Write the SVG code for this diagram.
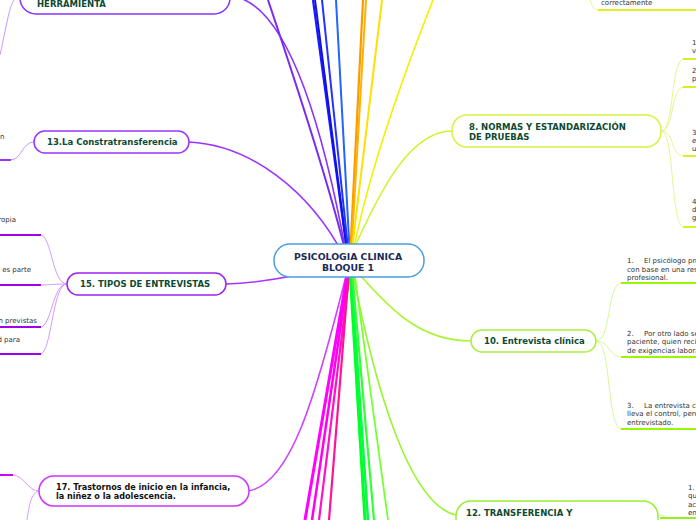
<svg xmlns="http://www.w3.org/2000/svg" width="696" height="520" viewBox="0 0 696 520">
<style>
.node{fill:#fff;stroke-width:1.5}
.t{font-family:"DejaVu Sans",Verdana,sans-serif;font-weight:bold;font-size:8.5px;fill:#0d4a32}
.s{font-family:"DejaVu Sans",Verdana,sans-serif;font-size:7px;fill:#333}
.c{fill:none}
.u{fill:none;stroke-width:2}
</style>
<rect width="696" height="520" fill="#fff"/>
<g id="connectors">
  <path class="c" d="M 230 -4 C 285 0, 322 120, 347 258" stroke="#8a33ff" stroke-width="1.6"/>
  <path class="c" d="M 268 0 Q 327 175 347 258" stroke="#7a2cf0" stroke-width="2"/>
  <path class="c" d="M 313 0 L 348 258" stroke="#1a1aff" stroke-width="2.2"/>
  <path class="c" d="M 315 0 L 348 258" stroke="#1010e8" stroke-width="2"/>
  <path class="c" d="M 322 0 L 349 258" stroke="#2233ff" stroke-width="2"/>
  <path class="c" d="M 336 0 L 350 258" stroke="#2266ff" stroke-width="2"/>
  <path class="c" d="M 363 0 L 350 258" stroke="#ff9900" stroke-width="2.2"/>
  <path class="c" d="M 366 0 L 351 258" stroke="#ffb300" stroke-width="2"/>
  <path class="c" d="M 382 0 L 351 258" stroke="#ffe000" stroke-width="2"/>
  <path class="c" d="M 433 0 Q 370 160 352 258" stroke="#f2f200" stroke-width="1.6"/>
  <path class="c" d="M 351 255 C 380 190, 410 131, 452 131" stroke="#ccf533" stroke-width="1.6"/>
  <path class="c" d="M 189 142 C 250 145, 310 190, 345 258" stroke="#9933ff" stroke-width="1.6"/>
  <path class="c" d="M 226 284 C 260 283, 300 276, 349 262" stroke="#aa33ff" stroke-width="1.6"/>
  <path class="c" d="M 248 491 C 290 485, 315 400, 347 272" stroke="#cc44ff" stroke-width="1.6"/>
  <path class="c" d="M 352 266 C 390 310, 420 341, 471 341" stroke="#aaf533" stroke-width="1.6"/>
  <path class="c" d="M 352 268 C 375 390, 410 505, 456 515" stroke="#99f533" stroke-width="1.6"/>
  <path class="c" d="M 348 270 L 305 520" stroke="#ff00ff" stroke-width="3"/>
  <path class="c" d="M 349 270 L 312 520" stroke="#ff00ee" stroke-width="2.5"/>
  <path class="c" d="M 350 270 L 319 520" stroke="#ff10cc" stroke-width="2.2"/>
  <path class="c" d="M 349 270 L 329 520" stroke="#ff1493" stroke-width="2.2"/>
  <path class="c" d="M 350 270 L 365 520" stroke="#00ff22" stroke-width="3"/>
  <path class="c" d="M 351 270 L 368 520" stroke="#00ff44" stroke-width="2.5"/>
  <path class="c" d="M 352 270 L 374 520" stroke="#33ff33" stroke-width="2.2"/>
  <path class="c" d="M 354 270 L 388 520" stroke="#77ff33" stroke-width="1.8"/>
  <path class="c" d="M 20 -4 C 10 -4, 8 20, 0 55" stroke="#c499ff" stroke-width="1"/>
  <path class="c" d="M 34 142 C 22 142, 22 160, 10 160" stroke="#c499ff" stroke-width="1"/>
  <path class="u" d="M 0 160 L 11 160" stroke="#9933ff"/>
  <g stroke="#d09cff" stroke-width="1" fill="none">
    <path d="M 67 284 C 52 284, 52 235, 40 235"/>
    <path d="M 67 284 C 52 284, 52 285, 40 285"/>
    <path d="M 67 284 C 52 284, 52 327, 40 327"/>
    <path d="M 67 284 C 52 284, 52 354, 40 354"/>
  </g>
  <g stroke="#a000ee" class="u">
    <path d="M 0 235 L 41 235"/>
    <path d="M 0 285 L 41 285"/>
    <path d="M 0 327 L 41 327"/>
    <path d="M 0 354 L 41 354"/>
  </g>
  <path class="c" d="M 39 491 C 28 491, 24 475, 12 475" stroke="#dd99ff" stroke-width="1"/>
  <path class="c" d="M 39 491 C 31 493, 29 505, 27 520" stroke="#dd99ff" stroke-width="1"/>
  <path class="u" d="M 0 475 L 13 475" stroke="#cc00ff"/>
  <g stroke="#e8f590" stroke-width="1" fill="none">
    <path d="M 661 131 C 675 131, 670 59, 684 59"/>
    <path d="M 661 131 C 675 131, 670 87, 684 87"/>
    <path d="M 661 131 C 675 131, 670 156, 684 156"/>
    <path d="M 661 131 C 675 131, 670 227, 684 227"/>
  </g>
  <g stroke="#d8f020" class="u">
    <path d="M 683 59 L 696 59"/>
    <path d="M 683 87 L 696 87"/>
    <path d="M 683 156 L 696 156"/>
    <path d="M 683 227 L 696 227"/>
  </g>
  <path class="c" d="M 589 -6 C 591 6, 593 10, 600 10" stroke="#e8f590" stroke-width="1"/>
  <path class="u" d="M 598 10 L 696 10" stroke="#e0f020"/>
  <g stroke="#d4fa99" stroke-width="1" fill="none">
    <path d="M 596 341 C 612 341, 606 283, 622 283"/>
    <path d="M 596 341 C 610 341, 608 357, 622 357"/>
    <path d="M 596 341 C 612 341, 606 429, 622 429"/>
  </g>
  <g stroke="#99f500" class="u">
    <path d="M 621 283 L 696 283"/>
    <path d="M 621 357 L 696 357"/>
    <path d="M 621 429 L 696 429"/>
  </g>
  <path class="c" d="M 658 515 C 664 515, 664 518, 670 518" stroke="#ccf599" stroke-width="1"/>
  <path class="u" d="M 660 518 L 696 518" stroke="#99ee22"/>
</g>

<g id="center">
  <rect class="node" x="274" y="244" width="150" height="33" rx="16" stroke="#4a9fdf"/>
  <text class="t" style="fill:#1a2a5a;font-size:9.3px" text-anchor="middle" x="348" y="259.5">PSICOLOGIA CLINICA</text>
  <text class="t" style="fill:#1a2a5a;font-size:9.3px" text-anchor="middle" x="348" y="270.8">BLOQUE 1</text>
</g>

<g id="n-herramienta">
  <rect class="node" x="20" y="-22" width="210" height="36" rx="16" stroke="#8833ff"/>
  <text class="t" x="37" y="7">HERRAMIENTA</text>
</g>

<g id="n13">
  <rect class="node" x="34" y="131" width="155" height="22" rx="11" stroke="#9933ff"/>
  <text class="t" x="47" y="145.3">13.La Constratransferencia</text>
  <text class="s" x="0" y="139">n</text>
</g>

<g id="n15">
  <rect class="node" x="67" y="273" width="159" height="22" rx="11" stroke="#a020f0"/>
  <text class="t" x="80" y="287.3">15. TIPOS DE ENTREVISTAS</text>
  <text class="s" text-anchor="end" x="16" y="222">ropia</text>
  <text class="s" text-anchor="end" x="31" y="272">a es parte</text>
  <text class="s" text-anchor="end" x="37" y="323">in previstas</text>
  <text class="s" text-anchor="end" x="20" y="342">d para</text>
</g>

<g id="n17">
  <rect class="node" x="39" y="476" width="210" height="30" rx="15" stroke="#cc33ff"/>
  <text class="t" style="fill:#111;font-size:8.1px" x="56" y="490">17. Trastornos de inicio en la infancia,</text>
  <text class="t" style="fill:#111;font-size:8.1px" x="56" y="499">la niñez o la adolescencia.</text>
</g>

<g id="n8">
  <rect class="node" x="452" y="115" width="209" height="32" rx="15" stroke="#d4f542"/>
  <text class="t" x="469" y="129.5">8. NORMAS Y ESTANDARIZACIÓN</text>
  <text class="t" x="469" y="140.3">DE PRUEBAS</text>
  <text class="s" x="692" y="45">1</text>
  <text class="s" x="692" y="53">v</text>
  <text class="s" x="692" y="73">2</text>
  <text class="s" x="692" y="81">p</text>
  <text class="s" x="692" y="135">3</text>
  <text class="s" x="692" y="143">e</text>
  <text class="s" x="692" y="151">u</text>
  <text class="s" x="692" y="204">4</text>
  <text class="s" x="692" y="212">d</text>
  <text class="s" x="692" y="220">g</text>
</g>

<g id="n-correctamente">
  <text class="s" x="601" y="5">correctamente</text>
</g>

<g id="n10">
  <rect class="node" x="471" y="330" width="125" height="22" rx="11" stroke="#a8f040"/>
  <text class="t" x="484" y="344.3">10. Entrevista clínica</text>
  <text class="s" x="627" y="263">1.<tspan x="644">El psicólogo pre</tspan></text>
  <text class="s" x="627" y="271.5">con base en una resp</text>
  <text class="s" x="627" y="280">profesional.</text>
  <text class="s" x="627" y="335.5">2.<tspan x="644">Por otro lado se</tspan></text>
  <text class="s" x="627" y="344">paciente, quien recibe</text>
  <text class="s" x="627" y="352.5">de exigencias laboral</text>
  <text class="s" x="627" y="407.5">3.<tspan x="644">La entrevista cl</tspan></text>
  <text class="s" x="627" y="416">lleva el control, pero</text>
  <text class="s" x="627" y="424.5">entrevistado.</text>
</g>

<g id="n12">
  <rect class="node" x="456" y="501" width="202" height="36" rx="15" stroke="#99ee33"/>
  <text class="t" x="466" y="516">12. TRANSFERENCIA Y</text>
  <text class="s" x="688" y="490">1.</text>
  <text class="s" x="688" y="498">qu</text>
  <text class="s" x="688" y="507">ac</text>
  <text class="s" x="688" y="515">en</text>
</g>
</svg>
